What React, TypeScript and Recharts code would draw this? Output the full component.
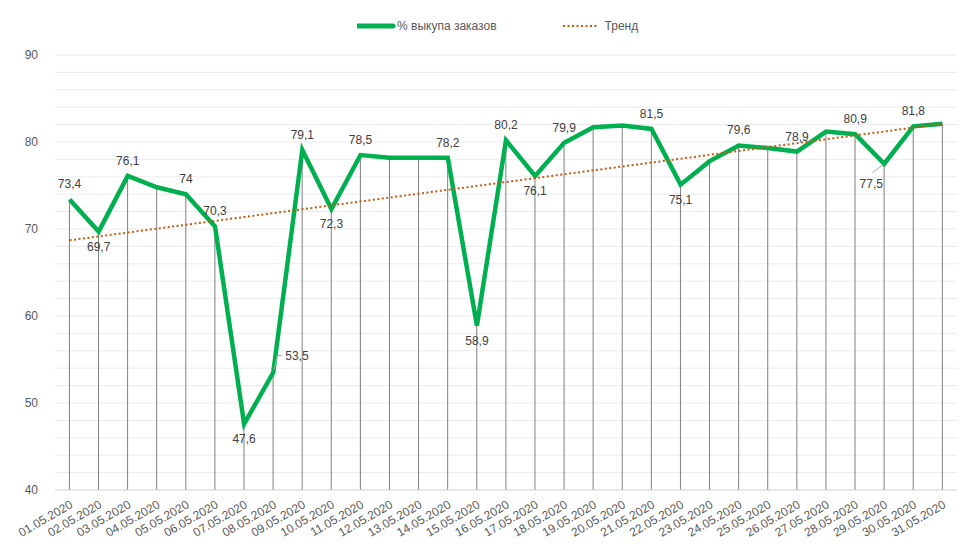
import React from "react";
import {
  ComposedChart,
  Line,
  Bar,
  XAxis,
  YAxis,
  CartesianGrid,
  LabelList,
} from "recharts";

// Days of May 2020
const DATES = [
  "01.05.2020", "02.05.2020", "03.05.2020", "04.05.2020", "05.05.2020",
  "06.05.2020", "07.05.2020", "08.05.2020", "09.05.2020", "10.05.2020",
  "11.05.2020", "12.05.2020", "13.05.2020", "14.05.2020", "15.05.2020",
  "16.05.2020", "17.05.2020", "18.05.2020", "19.05.2020", "20.05.2020",
  "21.05.2020", "22.05.2020", "23.05.2020", "24.05.2020", "25.05.2020",
  "26.05.2020", "27.05.2020", "28.05.2020", "29.05.2020", "30.05.2020",
  "31.05.2020",
];

// % выкупа заказов
const BUYOUT = [
  73.4, 69.7, 76.1, 74.8, 74, 70.3, 47.6, 53.5, 79.1, 72.3,
  78.5, 78.2, 78.2, 78.2, 58.9, 80.2, 76.1, 79.9, 81.7, 81.9,
  81.5, 75.1, 77.8, 79.6, 79.3, 78.9, 81.2, 80.9, 77.5, 81.8,
  82.1,
];

// trend line: value at first and last day
const TREND_ENDS = [68.7, 82.1];

const Y_TICKS = [40, 42, 44, 46, 48, 50, 52, 54, 56, 58, 60, 62, 64, 66, 68, 70, 72, 74, 76, 78, 80, 82, 84, 86, 88, 90];

// which points carry a value label and where it sits
const LABEL_PLACE: Record<number, string> = {
  0: "top", 1: "bottom", 2: "top", 4: "top", 5: "top", 6: "bottom",
  7: "right", 8: "top", 9: "bottom", 10: "top", 13: "top", 14: "bottom",
  15: "top", 16: "bottom", 17: "top", 20: "top", 21: "bottom", 23: "top",
  25: "top", 27: "top", 28: "leader", 29: "top",
};

const FONT = "Arial, 'Liberation Sans', sans-serif";
const GREEN = "#00B050";
const ORANGE = "#C55A11";

const data = DATES.map((date, i) => ({
  date,
  value: BUYOUT[i],
  trend: i === 0 ? TREND_ENDS[0] : i === DATES.length - 1 ? TREND_ENDS[1] : null,
}));

const DropLine = (props: any) => {
  const { x, y, width, height } = props;
  const cx = x + width / 2;
  return <line x1={cx} y1={y} x2={cx} y2={y + height} stroke="#7F7F7F" strokeWidth={1} />;
};

const XTick = (props: any) => {
  const { x, y, payload } = props;
  const ax = x + 4;
  const ay = y + 17;
  return (
    <text
      x={ax}
      y={ay}
      transform={`rotate(-30, ${ax}, ${ay})`}
      textAnchor="end"
      fontSize={12}
      fill="#595959"
      fontFamily={FONT}
    >
      {payload.value}
    </text>
  );
};

const ValueLabel = (props: any) => {
  const { x, y, value, index } = props;
  const place = LABEL_PLACE[index];
  if (!place) return null;
  const txt = String(value).replace(".", ",");
  const common = { fontSize: 12, fill: "#404040", fontFamily: FONT };
  if (place === "top") {
    return <text x={x} y={y - 11} textAnchor="middle" {...common}>{txt}</text>;
  }
  if (place === "bottom") {
    return <text x={x} y={y + 19} textAnchor="middle" {...common}>{txt}</text>;
  }
  if (place === "right") {
    return (
      <g>
        <polyline
          points={`${x + 1},${y - 3} ${x + 4},${y - 17} ${x + 9},${y - 17}`}
          fill="none"
          stroke="#A6A6A6"
          strokeWidth={1}
        />
        <text x={x + 12} y={y - 13} textAnchor="start" {...common}>{txt}</text>
      </g>
    );
  }
  // label pulled down-left with a leader line
  return (
    <g>
      <line x1={x - 1} y1={y + 1} x2={x - 12} y2={y + 9} stroke="#A6A6A6" strokeWidth={1} />
      <text x={x - 13} y={y + 24} textAnchor="middle" {...common}>{txt}</text>
    </g>
  );
};

const LegendBar = () => (
  <div
    style={{
      position: "absolute",
      left: 357,
      top: 19,
      display: "flex",
      alignItems: "center",
      fontFamily: FONT,
      fontSize: 12,
      color: "#595959",
    }}
  >
    <svg width={40} height={10}>
      <line x1={1} y1={5} x2={36} y2={5} stroke={GREEN} strokeWidth={5} strokeLinecap="round" />
    </svg>
    <span>% выкупа заказов</span>
    <svg width={42} height={10} style={{ marginLeft: 66 }}>
      <line x1={0} y1={5} x2={36} y2={5} stroke={ORANGE} strokeWidth={2} strokeDasharray="2 2.5" />
    </svg>
    <span>Тренд</span>
  </div>
);

export default function App() {
  return (
    <div style={{ position: "absolute", left: 0, top: 0, width: 979, height: 556, background: "#fff" }}>
      <LegendBar />
      <ComposedChart
        width={979}
        height={556}
        data={data}
        margin={{ top: 55, right: 22, left: 0, bottom: 0 }}
      >
        <CartesianGrid vertical={false} stroke="#EBEBEB" />
        <XAxis
          dataKey="date"
          interval={0}
          height={66}
          tickLine={false}
          tickSize={0}
          tickMargin={0}
          axisLine={{ stroke: "#D9D9D9" }}
          tick={<XTick />}
        />
        <YAxis
          type="number"
          domain={[40, 90]}
          ticks={Y_TICKS}
          interval={0}
          width={55}
          axisLine={false}
          tickLine={false}
          tickSize={0}
          tickMargin={17}
          tickFormatter={(v: number) => (v % 10 === 0 ? String(v) : "")}
          tick={{ fontSize: 12, fill: "#595959", fontFamily: FONT }}
        />
        <Bar dataKey="value" shape={<DropLine />} isAnimationActive={false} />
        <Line
          type="linear"
          dataKey="value"
          stroke={GREEN}
          strokeWidth={4.5}
          dot={false}
          activeDot={false}
          isAnimationActive={false}
        >
          <LabelList dataKey="value" content={<ValueLabel />} />
        </Line>
        <Line
          type="linear"
          dataKey="trend"
          stroke={ORANGE}
          strokeWidth={2}
          strokeDasharray="2 2.5"
          dot={false}
          activeDot={false}
          connectNulls
          isAnimationActive={false}
        />
      </ComposedChart>
    </div>
  );
}
